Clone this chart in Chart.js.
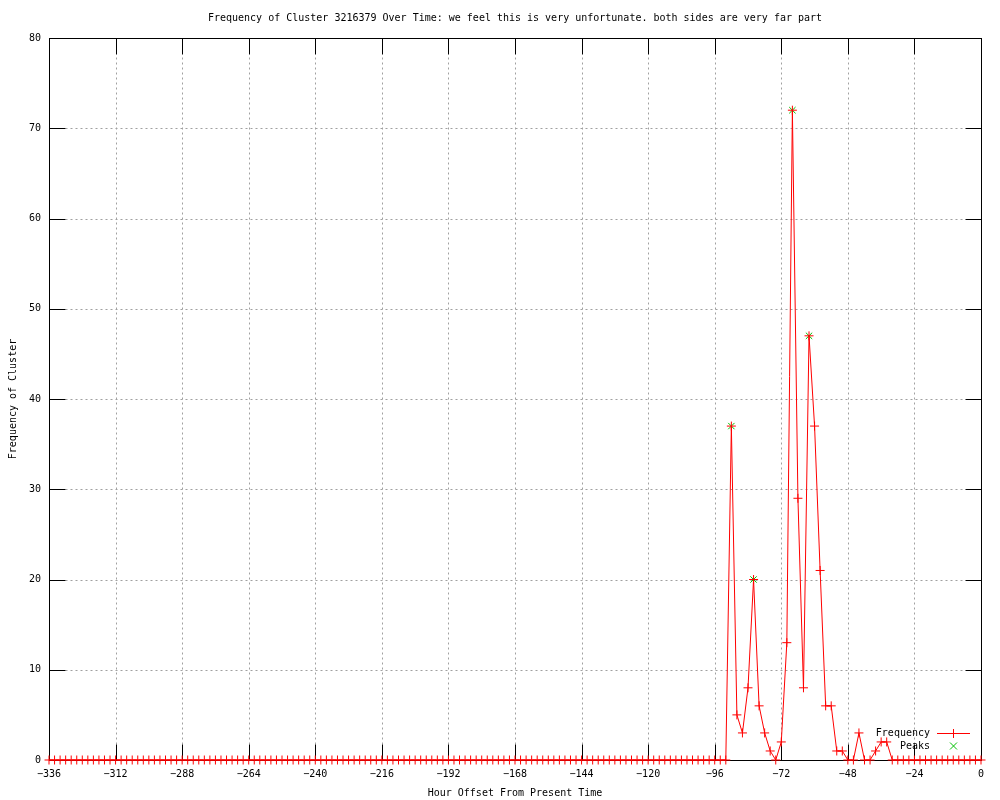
<html>
<head>
<script src="https://cdn.jsdelivr.net/npm/chart.js@4.4.0/dist/chart.umd.min.js"></script>
<style>
  body { margin: 0; background: #fff; }
  #freqChart { display: block; }
</style>
</head>
<body>
<canvas id="freqChart" width="1000" height="800"></canvas>
<script>
// hour offsets, one sample every 2 hours
var hours = [
  -336,-334,-332,-330,-328,-326,-324,-322,-320,-318,-316,-314,-312,-310,-308,-306,-304,-302,-300,-298,
  -296,-294,-292,-290,-288,-286,-284,-282,-280,-278,-276,-274,-272,-270,-268,-266,-264,-262,-260,-258,
  -256,-254,-252,-250,-248,-246,-244,-242,-240,-238,-236,-234,-232,-230,-228,-226,-224,-222,-220,-218,
  -216,-214,-212,-210,-208,-206,-204,-202,-200,-198,-196,-194,-192,-190,-188,-186,-184,-182,-180,-178,
  -176,-174,-172,-170,-168,-166,-164,-162,-160,-158,-156,-154,-152,-150,-148,-146,-144,-142,-140,-138,
  -136,-134,-132,-130,-128,-126,-124,-122,-120,-118,-116,-114,-112,-110,-108,-106,-104,-102,-100,-98,
  -96,-94,-92,-90,-88,-86,-84,-82,-80,-78,-76,-74,-72,-70,-68,-66,-64,-62,-60,-58,
  -56,-54,-52,-50,-48,-46,-44,-42,-40,-38,-36,-34,-32,-30,-28,-26,-24,-22,-20,-18,
  -16,-14,-12,-10,-8,-6,-4,-2,0
];
var frequency = [
  0,0,0,0,0,0,0,0,0,0,0,0,0,0,0,0,0,0,0,0,
  0,0,0,0,0,0,0,0,0,0,0,0,0,0,0,0,0,0,0,0,
  0,0,0,0,0,0,0,0,0,0,0,0,0,0,0,0,0,0,0,0,
  0,0,0,0,0,0,0,0,0,0,0,0,0,0,0,0,0,0,0,0,
  0,0,0,0,0,0,0,0,0,0,0,0,0,0,0,0,0,0,0,0,
  0,0,0,0,0,0,0,0,0,0,0,0,0,0,0,0,0,0,0,0,
  0,0,0,37,5,3,8,20,6,3,1,0,2,13,72,29,8,47,37,21,
  6,6,1,1,0,0,3,0,0,1,2,2,0,0,0,0,0,0,0,0,
  0,0,0,0,0,0,0,0,0
];
var peakHours = [-90, -82, -68, -62];
var peakValues = [37, 20, 72, 47];

var xTicks = [-336,-312,-288,-264,-240,-216,-192,-168,-144,-120,-96,-72,-48,-24,0];
var yTicks = [0,10,20,30,40,50,60,70,80];

var titleText = "Frequency of Cluster 3216379 Over Time: we feel this is very unfortunate. both sides are very far part";
var xLabel = "Hour Offset From Present Time";
var yLabel = "Frequency of Cluster";

var RED = '#ff0000';
var GREEN = '#00c000';
var FONT = "10px 'DejaVu Sans Mono', monospace";

var freqPoints = hours.map(function (h, i) { return { x: h, y: frequency[i] }; });
var peakPoints = peakHours.map(function (h, i) { return { x: h, y: peakValues[i] }; });

// gnuplot-like frame, inward ticks, dotted grid, labels and legend
var gnuFrame = {
  id: 'gnuFrame',
  beforeDatasetsDraw: function (chart) {
    var ctx = chart.ctx;
    var a = chart.chartArea;
    var xs = chart.scales.x, ys = chart.scales.y;
    var tl = 16;
    var L = Math.round(a.left) + 0.5, R = Math.round(a.right) + 0.5;
    var T = Math.round(a.top) + 0.5, B = Math.round(a.bottom) + 0.5;
    ctx.save();
    // grid
    ctx.strokeStyle = '#a0a0a0';
    ctx.lineWidth = 1;
    ctx.setLineDash([2, 3]);
    xTicks.forEach(function (v) {
      if (v === -336 || v === 0) return;
      var px = Math.round(xs.getPixelForValue(v)) + 0.5;
      ctx.beginPath();
      ctx.moveTo(px, B - tl);
      ctx.lineTo(px, T + tl);
      ctx.stroke();
    });
    yTicks.forEach(function (v) {
      if (v === 0 || v === 80) return;
      var py = Math.round(ys.getPixelForValue(v)) + 0.5;
      ctx.beginPath();
      ctx.moveTo(L + tl, py);
      ctx.lineTo(R - tl, py);
      ctx.stroke();
    });
    ctx.setLineDash([]);
    // ticks
    ctx.strokeStyle = '#000';
    xTicks.forEach(function (v) {
      var px = Math.round(xs.getPixelForValue(v)) + 0.5;
      ctx.beginPath();
      ctx.moveTo(px, B); ctx.lineTo(px, B - tl);
      ctx.moveTo(px, T); ctx.lineTo(px, T + tl);
      ctx.stroke();
    });
    yTicks.forEach(function (v) {
      var py = Math.round(ys.getPixelForValue(v)) + 0.5;
      ctx.beginPath();
      ctx.moveTo(L, py); ctx.lineTo(L + tl, py);
      ctx.moveTo(R, py); ctx.lineTo(R - tl, py);
      ctx.stroke();
    });
    // border
    ctx.strokeRect(L, T, R - L, B - T);
    ctx.restore();
  },
  afterDraw: function (chart) {
    var ctx = chart.ctx;
    var a = chart.chartArea;
    ctx.save();
    ctx.fillStyle = '#000';
    ctx.font = FONT;
    ctx.textAlign = 'center';
    ctx.textBaseline = 'middle';
    ctx.fillText(titleText, (a.left + a.right) / 2, 18);
    ctx.fillText(xLabel, (a.left + a.right) / 2, 793);
    ctx.save();
    ctx.translate(13, (a.top + a.bottom) / 2);
    ctx.rotate(-Math.PI / 2);
    ctx.fillText(yLabel, 0, 0);
    ctx.restore();

    // legend
    var ds = chart.data.datasets;
    ctx.textAlign = 'right';
    ctx.fillText(ds[0].label, 930, 733);
    ctx.fillText(ds[1].label, 930, 746);
    ctx.fillStyle = RED;
    ctx.fillRect(937, 733, 33, 1);
    ctx.fillRect(953, 729, 1, 9);
    ctx.lineWidth = 1;
    ctx.strokeStyle = GREEN;
    ctx.beginPath();
    ctx.moveTo(950, 742.5); ctx.lineTo(957, 749.5);
    ctx.moveTo(957, 742.5); ctx.lineTo(950, 749.5);
    ctx.stroke();
    ctx.restore();
  }
};

var ctx = document.getElementById('freqChart');
var myChart = new Chart(ctx, {
  type: 'line',
  data: {
    datasets: [{
      label: 'Frequency',
      data: freqPoints,
      borderColor: RED,
      backgroundColor: RED,
      borderWidth: 1,
      tension: 0,
      pointStyle: 'cross',
      pointRadius: 4.5,
      pointBorderWidth: 1,
      pointBorderColor: RED,
      clip: false
    }, {
      label: 'Peaks',
      data: peakPoints,
      showLine: false,
      borderColor: GREEN,
      backgroundColor: GREEN,
      pointStyle: 'crossRot',
      pointRadius: 4.5,
      pointBorderWidth: 1,
      clip: false
    }]
  },
  options: {
    responsive: false,
    animation: false,
    events: [],
    layout: { padding: { left: 0, right: 19, top: 38, bottom: 0 } },
    plugins: {
      legend: { display: false },
      title: { display: false },
      tooltip: { enabled: false }
    },
    scales: {
      x: {
        type: 'linear',
        min: -336,
        max: 0,
        afterBuildTicks: function (scale) {
          scale.ticks = xTicks.map(function (v) { return { value: v }; });
        },
        afterFit: function (scale) { scale.height = 40; },
        grid: { display: false, drawTicks: false },
        border: { display: false },
        ticks: {
          color: '#000',
          font: { family: "'DejaVu Sans Mono', monospace", size: 10 },
          padding: 8,
          maxRotation: 0,
          autoSkip: false,
          callback: function (v) { return String(v).replace('-', '\u2212'); }
        }
      },
      y: {
        min: 0,
        max: 80,
        afterBuildTicks: function (scale) {
          scale.ticks = yTicks.map(function (v) { return { value: v }; });
        },
        afterFit: function (scale) { scale.width = 49; },
        grid: { display: false, drawTicks: false },
        border: { display: false },
        ticks: {
          color: '#000',
          font: { family: "'DejaVu Sans Mono', monospace", size: 10 },
          padding: 8
        }
      }
    }
  },
  plugins: [gnuFrame]
});
</script>
</body>
</html>
